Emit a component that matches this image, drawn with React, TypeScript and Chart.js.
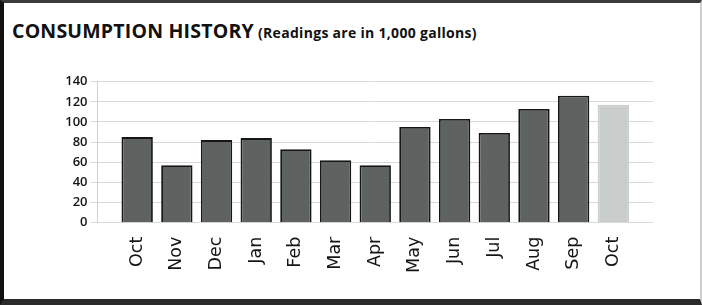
import React, { useEffect, useRef } from "react";
import { Chart, registerables } from "chart.js";

Chart.register(...registerables);

const months = ["Oct", "Nov", "Dec", "Jan", "Feb", "Mar", "Apr", "May", "Jun", "Jul", "Aug", "Sep", "Oct"];
const readings = [85, 57, 82, 84, 73, 62, 57, 95, 103, 89, 113, 126, 117];
const yTicks = [0, 20, 40, 60, 80, 100, 120, 140];

const DARK = "#5e6361";
const LIGHT = "#c9cdcb";

export default function App() {
  const ref = useRef<HTMLCanvasElement | null>(null);

  useEffect(() => {
    if (!ref.current) return;
    const labels = ["", ...months, ""];
    const data = [null, ...readings, null];
    const bg = labels.map((_, i) => (i === months.length ? LIGHT : DARK));
    const bc = labels.map((_, i) => (i === months.length ? LIGHT : "#161616"));
    const chart = new Chart(ref.current, {
      type: "bar",
      data: {
        labels,
        datasets: [
          {
            data: data as any,
            backgroundColor: bg,
            borderColor: bc,
            borderWidth: 1.8,
            categoryPercentage: 1,
            barPercentage: 0.79,
          },
        ],
      },
      options: {
        animation: false,
        responsive: false,
        maintainAspectRatio: false,
        layout: { padding: { top: 11.7, right: 37, left: 0, bottom: 0 } },
        plugins: { legend: { display: false }, tooltip: { enabled: false }, title: { display: false } },
        scales: {
          x: {
            offset: false,
            grid: { display: false, drawTicks: false },
            border: { display: false },
            ticks: {
              maxRotation: 90,
              minRotation: 90,
              autoSkip: false,
              padding: 14,
              color: "#151515",
              font: { family: "'DejaVu Sans', sans-serif", size: 17.5 },
            },
            afterFit: (s: any) => {
              s.height = 72.3;
            },
          },
          y: {
            min: 0,
            max: 140,
            afterBuildTicks: (s: any) => {
              s.ticks = yTicks.map((v) => ({ value: v }));
            },
            grid: { color: "#d9d9d9", lineWidth: 1, tickLength: 7 },
            border: { display: true, color: "#d0d0d0" },
            ticks: {
              padding: 3,
              color: "#151515",
              font: { family: "'Open Sans', sans-serif", size: 13, weight: "600" as any },
            },
            afterFit: (s: any) => {
              s.width = 57.5;
            },
          },
        },
      },
    });
    return () => chart.destroy();
  }, []);

  return (
    <div
      style={{
        position: "fixed",
        left: 0,
        top: 0,
        width: 702,
        height: 305,
        boxSizing: "border-box",
        background: "#fff",
        borderTop: "3px solid #3a3a3a",
        borderLeft: "4px solid #111",
        borderBottom: "6px solid #2a2a2a",
        borderRight: "2px solid #cfcfcf",
        overflow: "hidden",
      }}
    >
      <div
        style={{
          position: "absolute",
          left: 8,
          top: 14,
          whiteSpace: "nowrap",
          fontFamily: "'Open Sans', sans-serif",
          color: "#111",
        }}
      >
        <span style={{ fontSize: 19.5, fontWeight: 700, letterSpacing: 0.2 }}>CONSUMPTION HISTORY</span>{" "}
        <span style={{ fontSize: 14, fontWeight: 700, letterSpacing: 0.3 }}>(Readings are in 1,000 gallons)</span>
      </div>
      <canvas
        ref={ref}
        width={650}
        height={225}
        style={{ position: "absolute", left: 36, top: 67, width: 650, height: 225 }}
      />
    </div>
  );
}
